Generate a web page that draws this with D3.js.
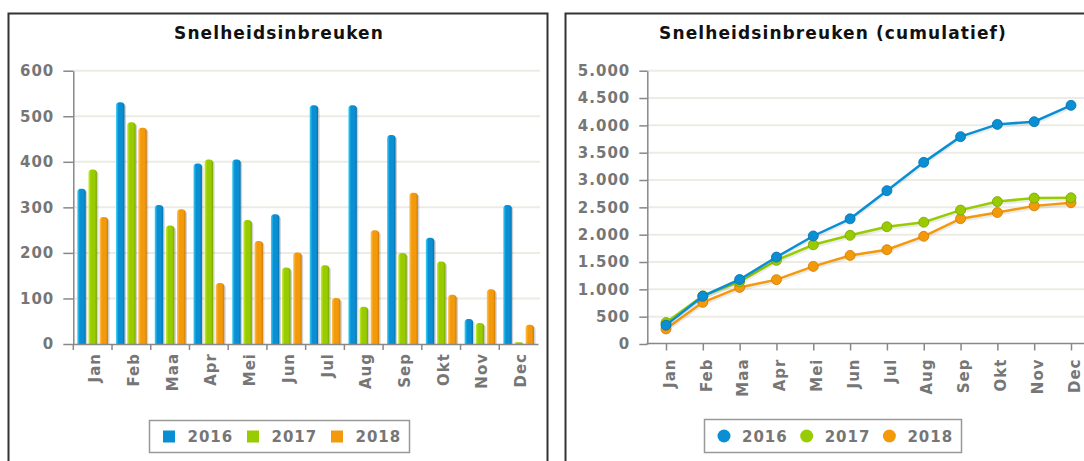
<!DOCTYPE html>
<html>
<head>
<meta charset="utf-8">
<script src="https://cdn.jsdelivr.net/npm/d3@7"></script>
<style>
  body { margin: 0; background: #fff; }
  svg text { font-family: "DejaVu Sans", sans-serif; }
</style>
</head>
<body>
<svg id="chart" width="1084" height="461"></svg>
<script>
// data
const months = ["Jan", "Feb", "Maa", "Apr", "Mei", "Jun", "Jul", "Aug", "Sep", "Okt", "Nov", "Dec"];
const years = ["2016", "2017", "2018"];

// monthly counts (left chart)
const month2016 = [341, 531, 305, 396, 405, 285, 524, 524, 459, 233, 55, 305];
const month2017 = [383, 487, 260, 405, 272, 168, 173, 82, 200, 181, 46, 4];
const month2018 = [279, 475, 296, 134, 226, 201, 101, 250, 332, 108, 120, 42];

// cumulative counts (right chart)
const cum2016 = [345, 875, 1180, 1590, 1976, 2290, 2805, 3323, 3793, 4018, 4067, 4366];
const cum2017 = [392, 880, 1140, 1530, 1815, 1988, 2145, 2228, 2450, 2605, 2670, 2675];
const cum2018 = [275, 762, 1035, 1177, 1420, 1620, 1725, 1970, 2293, 2405, 2527, 2585];

const leftTicks = [0, 100, 200, 300, 400, 500, 600];
const rightTicks = [0, 500, 1000, 1500, 2000, 2500, 3000, 3500, 4000, 4500, 5000];

const colors = { "2016": "#0a8fd4", "2017": "#99cc00", "2018": "#f39a0c" };
const light = { "2016": "#40d4f4", "2017": "#c6ee3a", "2018": "#ffc454" };
const dark = { "2016": "#0670aa", "2017": "#79a400", "2018": "#cf7a00" };

const svg = d3.select("#chart");
const nl = d3.formatLocale({ decimal: ",", thousands: ".", grouping: [3], currency: ["", ""] });
const fmt = nl.format(",");

// gradients for the bars
const defs = svg.append("defs");
years.forEach(y => {
    const g = defs.append("linearGradient").attr("id", "grad" + y)
        .attr("x1", "0").attr("x2", "1").attr("y1", "0").attr("y2", "0");
    g.append("stop").attr("offset", "0").attr("stop-color", light[y]);
    g.append("stop").attr("offset", "0.3").attr("stop-color", colors[y]);
    g.append("stop").attr("offset", "0.75").attr("stop-color", colors[y]);
    g.append("stop").attr("offset", "1").attr("stop-color", dark[y]);
});

// panel frames
svg.append("rect").attr("x", 8.5).attr("y", 13.5).attr("width", 539).attr("height", 470)
    .attr("fill", "none").attr("stroke", "#333").attr("stroke-width", 2);
svg.append("rect").attr("x", 565.5).attr("y", 13.5).attr("width", 535).attr("height", 470)
    .attr("fill", "none").attr("stroke", "#333").attr("stroke-width", 2);

function title(x, txt){
    svg.append("text").attr("x", x).attr("y", 39).attr("text-anchor", "middle")
        .attr("font-size", 17).attr("font-weight", "bold").attr("letter-spacing", 1.1)
        .attr("fill", "#111").text(txt);
}

function styleAxisText(sel){
    sel.selectAll("text").attr("font-size", 15).attr("font-weight", "bold")
        .attr("letter-spacing", 1).attr("fill", "#767676");
    sel.selectAll("line").attr("stroke", "#888").attr("stroke-width", 1.5);
    sel.select(".domain").attr("stroke", "#888").attr("stroke-width", 1.5);
}

function grid(g, y, ticks, x0, x1){
    g.selectAll(".grid").data(ticks.slice(1)).enter().append("line")
        .attr("x1", x0).attr("x2", x1)
        .attr("y1", d => y(d)).attr("y2", d => y(d))
        .attr("stroke", "#ecece4").attr("stroke-width", 2);
}

// ---------- left: monthly bars ----------
title(279, "Snelheidsinbreuken");
const gl = svg.append("g");
const xl = d3.scaleBand().domain(months).range([73.3, 538]);
const xs = d3.scaleBand().domain(years).range([4, xl.bandwidth() - 4]).paddingInner(0.24);
const yl = d3.scaleLinear().domain([0, 600]).range([344, 70.7]);
grid(gl, yl, leftTicks, 73, 540);

const yAxisL = gl.append("g").attr("transform", "translate(73.3,0)")
    .call(d3.axisLeft(yl).tickValues(leftTicks).tickSize(10).tickPadding(9).tickSizeOuter(0));
styleAxisText(yAxisL);

const series = { "2016": month2016, "2017": month2017, "2018": month2018 };
const barPath = (x, y, w, h) => {
    const r = Math.min(w / 2, 3.5, h);
    return `M${x},${y + h}V${y + r}Q${x},${y} ${x + r},${y}H${x + w - r}Q${x + w},${y} ${x + w},${y + r}V${y + h}Z`;
};
const groups = gl.selectAll(".month").data(months).enter().append("g")
    .attr("transform", d => `translate(${xl(d)},0)`);
years.forEach(yr => {
    groups.append("path")
        .attr("d", (m, i) => {
            const v = series[yr][i];
            return barPath(xs(yr) + 1.5, yl(v) + 1.5, xs.bandwidth(), yl(0) - yl(v) - 1.5);
        })
        .attr("fill", "#000").attr("opacity", 0.18);
    groups.append("path")
        .attr("d", (m, i) => {
            const v = series[yr][i];
            return barPath(xs(yr), yl(v), xs.bandwidth(), yl(0) - yl(v));
        })
        .attr("fill", `url(#grad${yr})`);
});

const xAxisL = gl.append("g").attr("transform", "translate(0,344)")
    .call(d3.axisBottom(xl).tickSize(6).tickSizeOuter(0).tickPadding(0));
styleAxisText(xAxisL);
xAxisL.selectAll(".tick line").attr("x1", -xl.bandwidth() / 2).attr("x2", -xl.bandwidth() / 2);
xAxisL.selectAll(".tick text")
    .attr("transform", "rotate(-90)").attr("text-anchor", "end")
    .attr("x", -9).attr("y", 0).attr("dy", "0.5em");

// legend left
const legL = svg.append("g");
legL.append("rect").attr("x", 149.5).attr("y", 420.5).attr("width", 260).attr("height", 32)
    .attr("fill", "#fff").attr("stroke", "#999").attr("stroke-width", 1.5);
years.forEach((yr, i) => {
    const x = 163 + i * 84;
    legL.append("rect").attr("x", x).attr("y", 430.5).attr("width", 12).attr("height", 12)
        .attr("fill", colors[yr]);
    legL.append("text").attr("x", x + 24.5).attr("y", 442).attr("font-size", 15)
        .attr("font-weight", "bold").attr("letter-spacing", 1).attr("fill", "#767676").text(yr);
});

// ---------- right: cumulative lines ----------
title(833, "Snelheidsinbreuken (cumulatief)");
const gr = svg.append("g");
const xr = d3.scalePoint().domain(months).range([666, 1071]);
const yr = d3.scaleLinear().domain([0, 5000]).range([344, 70.7]);
grid(gr, yr, rightTicks, 647, 1100);

const yAxisR = gr.append("g").attr("transform", "translate(647.3,0)")
    .call(d3.axisLeft(yr).tickValues(rightTicks).tickSize(8).tickPadding(9).tickSizeOuter(0).tickFormat(fmt));
styleAxisText(yAxisR);

const xAxisR = gr.append("g").attr("transform", "translate(0,343.5)")
    .call(d3.axisBottom(xr).tickSize(7).tickSizeOuter(0).tickPadding(0));
styleAxisText(xAxisR);
xAxisR.select(".domain").attr("d", "M646.5,0H1100");
xAxisR.selectAll(".tick text")
    .attr("transform", "rotate(-90)").attr("text-anchor", "end")
    .attr("x", -15).attr("y", 0).attr("dy", "0.55em");

const cum = { "2016": cum2016, "2017": cum2017, "2018": cum2018 };
const line = d3.line().x((d, i) => xr(months[i])).y(d => yr(d));
["2018", "2017", "2016"].forEach(k => {
    gr.append("path").datum(cum[k]).attr("d", line)
        .attr("fill", "none").attr("stroke", "#000").attr("stroke-opacity", 0.08)
        .attr("stroke-width", 4).attr("transform", "translate(0,1.5)");
    gr.append("path").datum(cum[k]).attr("d", line)
        .attr("fill", "none").attr("stroke", colors[k]).attr("stroke-width", 2.5);
    gr.selectAll(".pt" + k).data(cum[k]).enter().append("circle")
        .attr("cx", (d, i) => xr(months[i])).attr("cy", d => yr(d)).attr("r", 5)
        .attr("fill", colors[k]).attr("stroke", dark[k]).attr("stroke-width", 0.8);
});

// legend right
const legR = svg.append("g");
legR.append("rect").attr("x", 704.5).attr("y", 419.5).attr("width", 257).attr("height", 33)
    .attr("fill", "#fff").attr("stroke", "#999").attr("stroke-width", 1.5);
years.forEach((y, i) => {
    const x = 724 + i * 82.7;
    legR.append("circle").attr("cx", x).attr("cy", 436).attr("r", 6.5).attr("fill", colors[y]);
    legR.append("text").attr("x", x + 18).attr("y", 442).attr("font-size", 15)
        .attr("font-weight", "bold").attr("letter-spacing", 1).attr("fill", "#767676").text(y);
});
</script>
</body>
</html>
